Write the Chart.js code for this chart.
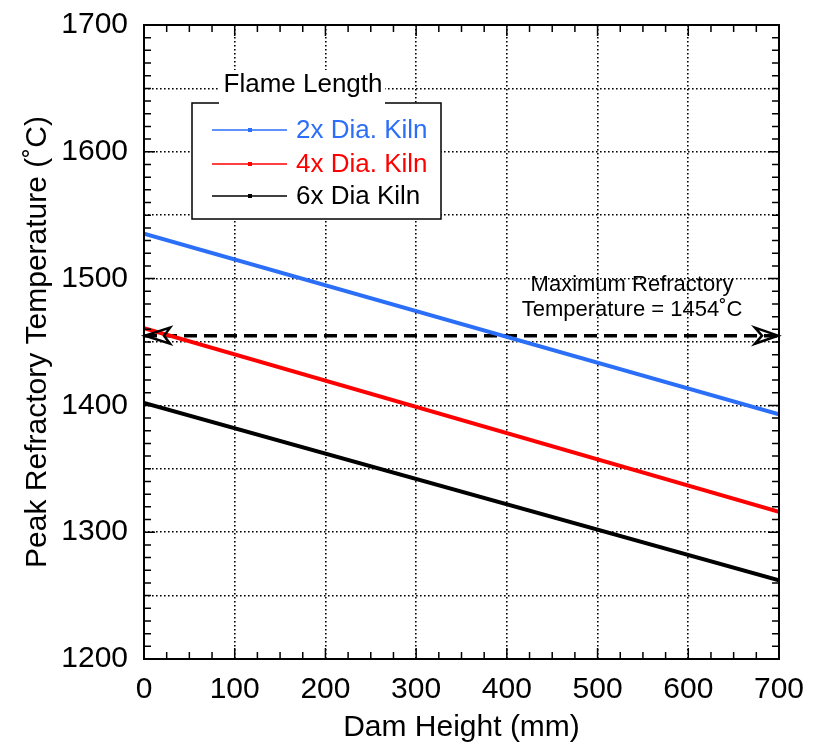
<!DOCTYPE html>
<html>
<head>
<meta charset="utf-8">
<script src="https://cdn.jsdelivr.net/npm/chart.js@4/dist/chart.umd.min.js"></script>
<style>
  html, body { margin: 0; padding: 0; background: #fff; }
  #wrap { width: 822px; height: 749px; }
</style>
</head>
<body>
<div id="wrap"><canvas id="myChart"></canvas></div>
<script>
// values
var damHeight = [0, 700];
var kiln2x = [1535.5, 1393];
var kiln4x = [1461, 1316];
var kiln6x = [1402, 1262];
var maxRefractory = [1455, 1455];
var seriesNames = ['2x Dia. Kiln', '4x Dia. Kiln', '6x Dia Kiln'];
var seriesColors = ['#2b6ef7', '#ff0000', '#000000'];
var xTickValues = [0, 100, 200, 300, 400, 500, 600, 700];
var yTickValues = [1200, 1300, 1400, 1500, 1600, 1700];

var FONT = '"Liberation Sans", Arial, Helvetica, sans-serif';

var toPoints = (ys) => damHeight.map((x, i) => ({x: x, y: ys[i]}));

var frame = {
    id: 'frame',
    afterDatasetsDraw: (chart) => {
        var ctx = chart.ctx;
        var a = chart.chartArea;
        var xs = chart.scales.x, ys = chart.scales.y;
        ctx.save();

        // box
        ctx.strokeStyle = '#000';
        ctx.lineWidth = 2;
        ctx.strokeRect(a.left, a.top, a.right - a.left, a.bottom - a.top);

        // inside ticks on all four sides
        ctx.lineWidth = 1.5;
        ctx.beginPath();
        for (var v = 0; v <= 700; v += 25) {
            var px = xs.getPixelForValue(v);
            var len = v % 100 === 0 ? 11 : 7;
            ctx.moveTo(px, a.bottom); ctx.lineTo(px, a.bottom - len);
            ctx.moveTo(px, a.top); ctx.lineTo(px, a.top + len);
        }
        for (var w = 1200; w <= 1700; w += 10) {
            var py = ys.getPixelForValue(w);
            var len2 = w % 100 === 0 ? 11 : 7;
            ctx.moveTo(a.left, py); ctx.lineTo(a.left + len2, py);
            ctx.moveTo(a.right, py); ctx.lineTo(a.right - len2, py);
        }
        ctx.stroke();

        // arrowheads on the max refractory line
        var yA = ys.getPixelForValue(maxRefractory[0]);
        var xL = xs.getPixelForValue(damHeight[0]);
        var xR = xs.getPixelForValue(damHeight[1]);
        ctx.lineWidth = 2.5;
        ctx.lineJoin = 'miter';
        ctx.beginPath();
        ctx.moveTo(xL + 1, yA);
        ctx.lineTo(xL + 26, yA - 8);
        ctx.lineTo(xL + 20, yA);
        ctx.lineTo(xL + 26, yA + 8);
        ctx.closePath();
        ctx.stroke();
        ctx.beginPath();
        ctx.moveTo(xR - 1, yA);
        ctx.lineTo(xR - 24, yA - 8);
        ctx.lineTo(xR - 17, yA);
        ctx.lineTo(xR - 24, yA + 8);
        ctx.closePath();
        ctx.stroke();

        // annotation
        ctx.fillStyle = '#000';
        ctx.font = '22px ' + FONT;
        ctx.textAlign = 'center';
        ctx.textBaseline = 'middle';
        var tx = xs.getPixelForValue(538);
        ctx.fillText('Maximum Refractory', tx, ys.getPixelForValue(1495));
        ctx.fillText('Temperature = 1454˚C', tx, ys.getPixelForValue(1475.5));

        // legend
        var bx = a.left + 48, by = a.top + 78, bw = 249, bh = 116;
        ctx.fillStyle = '#fff';
        ctx.fillRect(bx, by, bw, bh);
        ctx.lineWidth = 1.5;
        ctx.strokeStyle = '#000';
        ctx.strokeRect(bx, by, bw, bh);
        ctx.fillRect(bx + 27, by - 33, 166, 34);
        ctx.fillStyle = '#000';
        ctx.font = '26px ' + FONT;
        ctx.textAlign = 'center';
        ctx.fillText('Flame Length', bx + 111, by - 18);

        var rows = [27, 61, 93];
        ctx.textAlign = 'left';
        seriesNames.forEach((name, i) => {
            var ry = by + rows[i];
            ctx.strokeStyle = seriesColors[i];
            ctx.fillStyle = seriesColors[i];
            ctx.lineWidth = 1.5;
            ctx.beginPath();
            ctx.moveTo(bx + 20, ry); ctx.lineTo(bx + 95, ry);
            ctx.stroke();
            ctx.fillRect(bx + 56, ry - 2, 4, 4);
            ctx.fillText(name, bx + 104, ry + 1);
        });
        ctx.restore();
    }
};

var ctx = document.getElementById('myChart').getContext('2d');

var myChart = new Chart(ctx, {
    type: 'line',
    data: {
        datasets: [
            { label: seriesNames[0], data: toPoints(kiln2x), borderColor: seriesColors[0], borderWidth: 4 },
            { label: seriesNames[1], data: toPoints(kiln4x), borderColor: seriesColors[1], borderWidth: 4 },
            { label: seriesNames[2], data: toPoints(kiln6x), borderColor: seriesColors[2], borderWidth: 4 },
            { label: 'Maximum Refractory', data: toPoints(maxRefractory), borderColor: '#000', borderWidth: 3.5, borderDash: [13, 7] }
        ]
    },
    options: {
        responsive: true,
        maintainAspectRatio: false,
        animation: false,
        devicePixelRatio: 1,
        elements: { point: { radius: 0 }, line: { tension: 0, fill: false } },
        layout: { padding: { left: 0, top: 25, right: 43, bottom: 0 } },
        plugins: { legend: { display: false }, tooltip: { enabled: false } },
        scales: {
            x: {
                type: 'linear',
                min: 0, max: 700,
                afterFit: (s) => { s.height = 90; s.paddingLeft = 0; s.paddingRight = 0; },
                afterBuildTicks: (s) => { s.ticks = xTickValues.map(v => ({value: v})); },
                ticks: { color: '#000', padding: 13, font: { family: FONT, size: 30 }, maxRotation: 0 },
                grid: { color: '#000', lineWidth: 1.6, drawTicks: false },
                border: { display: false, dash: [1.6, 2.4] },
                title: { display: true, text: 'Dam Height (mm)', color: '#000', font: { family: FONT, size: 30 }, padding: { top: 0, bottom: 3 } }
            },
            y: {
                type: 'linear',
                min: 1200, max: 1700,
                afterFit: (s) => { s.width = 144; s.paddingTop = 0; s.paddingBottom = 0; },
                ticks: {
                    stepSize: 50,
                    color: '#000', padding: 16, font: { family: FONT, size: 30 },
                    callback: (v) => yTickValues.indexOf(v) >= 0 ? v : ''
                },
                grid: { color: '#000', lineWidth: 1.6, drawTicks: false },
                border: { display: false, dash: [1.6, 2.4] },
                title: { display: true, text: 'Peak Refractory Temperature (˚C)', color: '#000', font: { family: FONT, size: 30 }, padding: { top: 20, bottom: 0 } }
            }
        }
    },
    plugins: [frame]
});
</script>
</body>
</html>
